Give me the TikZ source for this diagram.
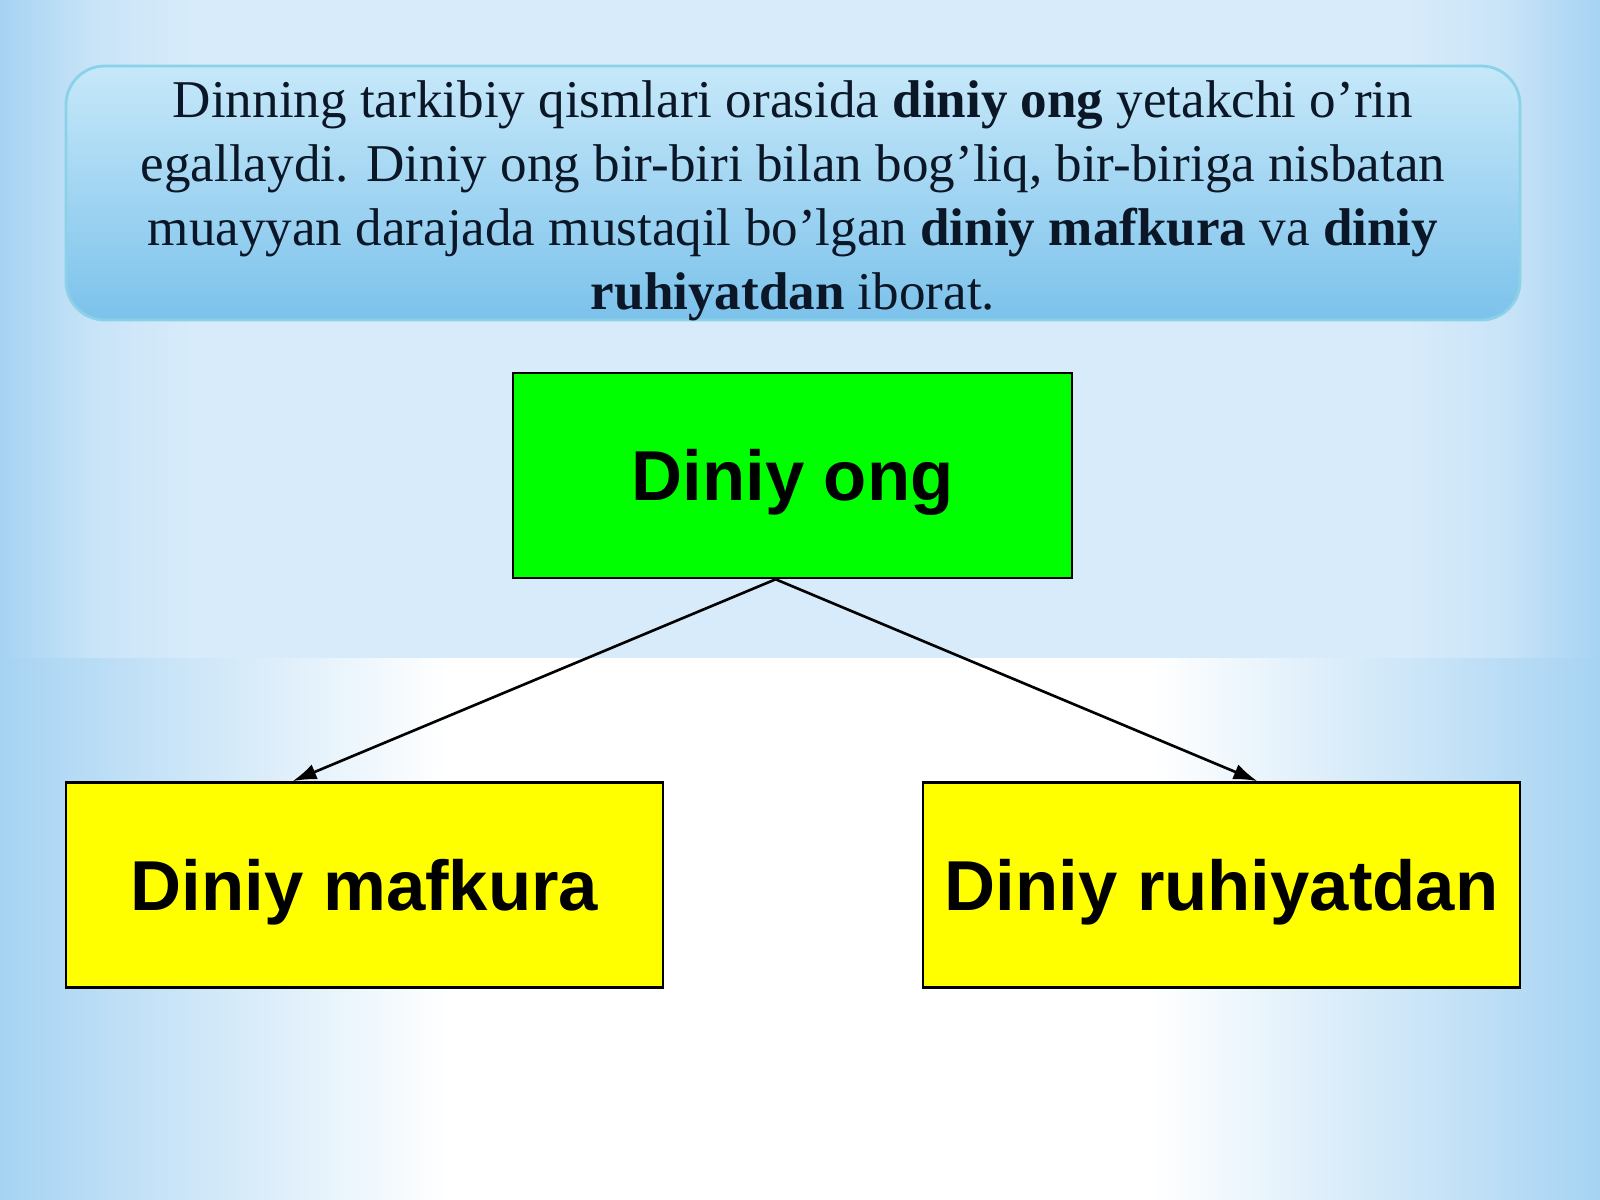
\documentclass[tikz,border=0pt]{standalone}
\usepackage{fontspec}
\setmainfont{Liberation Serif}
\newfontfamily\arialfont{Liberation Sans}
\usetikzlibrary{calc,arrows.meta}
\definecolor{navytext}{HTML}{0B1626}
\definecolor{edgeA}{HTML}{A6D3F3}
\definecolor{midA}{HTML}{C9E4F8}
\definecolor{centerA}{HTML}{D7EBFA}
\definecolor{midB}{HTML}{CDE6F8}
\definecolor{boxtop}{HTML}{C6E8F9}
\definecolor{boxbot}{HTML}{7CC2EB}
\definecolor{boxline}{HTML}{8BD2E8}
\definecolor{greenbox}{HTML}{00FF00}
\definecolor{yellowbox}{HTML}{FFFF00}
\pgfdeclarehorizontalshading{topbg}{100bp}{color(0bp)=(edgeA); color(25bp)=(edgeA); color(28bp)=(midA); color(31bp)=(centerA); color(69bp)=(centerA); color(72bp)=(midA); color(75bp)=(edgeA); color(100bp)=(edgeA)}
\pgfdeclarehorizontalshading{bottombg}{100bp}{color(0bp)=(edgeA); color(25bp)=(edgeA); color(31bp)=(midB); color(39bp)=(white); color(61bp)=(white); color(69bp)=(midB); color(75bp)=(edgeA); color(100bp)=(edgeA)}
\tikzset{
  conceptbox/.style={draw=black, line width=0.7pt, minimum width=5.59cm, minimum height=2.05cm, inner sep=0pt, text height=14.4pt, text depth=0pt, font=\arialfont\bfseries\fontsize{20.1}{24}\selectfont, text=black},
  subbox/.style={conceptbox, fill=yellowbox, minimum width=5.97cm},
  linkarrow/.style={-{Latex[length=2.4mm,width=1.6mm]}, line width=0.75pt, black}
}
\begin{document}
\begin{tikzpicture}[x=0.01cm,y=-0.01cm]
\useasboundingbox (0,0) rectangle (1600,1200);
% background
\shade[shading=topbg] (0,0) rectangle (1600,658);
\shade[shading=bottombg] (0,658) rectangle (1600,1200);
% title box
\shade[top color=boxtop, bottom color=boxbot, draw=boxline, line width=0.8pt, rounded corners=11pt] (66,66) rectangle (1520,320);
\node[text=navytext, align=center, font=\fontsize{15.1}{18.2}\selectfont, inner sep=0pt] (title) at (793,201)
{Dinning tarkibiy qismlari orasida \textbf{diniy ong} yetakchi o’rin\\
egallaydi. Diniy ong bir-biri bilan bog’liq, bir-biriga nisbatan\\
muayyan darajada mustaqil bo’lgan \textbf{diniy mafkura} va \textbf{diniy}\\
\textbf{ruhiyatdan} iborat.};
% boxes
\node[conceptbox, fill=greenbox] (ong) at (792.5,475.5) {Diniy ong};
\node[subbox] (mafkura) at (364.5,885) {Diniy mafkura};
\node[subbox] (ruhiyat) at (1221.5,885) {Diniy ruhiyatdan};
\coordinate (src) at ($(ong.south west)!0.47!(ong.south east)$);
\coordinate (dstL) at ($(mafkura.north west)!0.38!(mafkura.north east)$);
\coordinate (dstR) at ($(ruhiyat.north west)!0.56!(ruhiyat.north east)$);
\draw[linkarrow] (src) -- (dstL);
\draw[linkarrow] (src) -- (dstR);
\end{tikzpicture}
\end{document}
